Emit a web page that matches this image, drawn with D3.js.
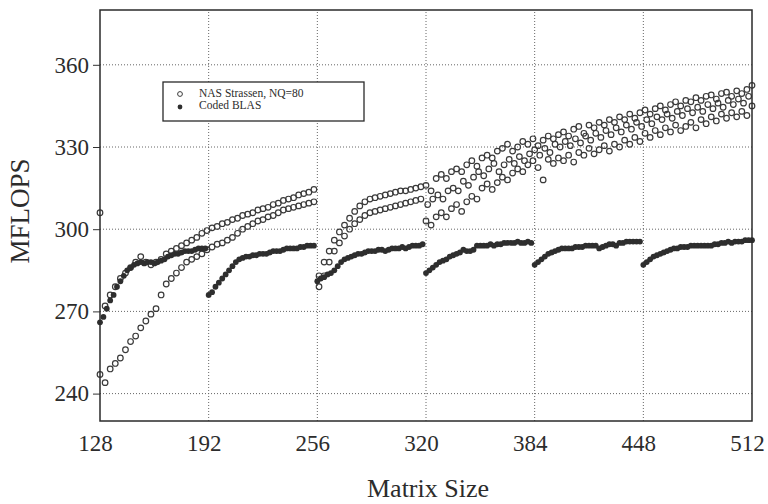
<!DOCTYPE html>
<html>
<head>
<meta charset="utf-8">
<script src="https://cdn.jsdelivr.net/npm/d3@7/dist/d3.min.js"></script>
<style>
    body { margin: 0; background: #fff; }
    svg text { font-family: "Liberation Serif", "Times New Roman", serif; fill: #2c2c2c; }
</style>
</head>
<body>
<div id="chart"></div>
<script>
"use strict";

// axis ticks
var xTicks = [128, 192, 256, 320, 384, 448, 512];
var yTicks = [240, 270, 300, 330, 360];

// legend labels
var seriesNames = ["NAS Strassen, NQ=80", "Coded BLAS"];

// coded BLAS, one value every 2 sizes from 128 to 512
var blasSizes = d3.range(128, 513, 2);
var blasValues = [
    266, 268, 271, 274, 276, 279, 281, 283, 285, 286, 287, 287.5, 288, 287.5, 288, 288,
    287.5, 288, 288.5, 289, 290, 290.5, 291, 291, 291.5, 292, 292, 292, 292.5, 293, 293, 293,
    276, 277, 279, 280.5, 282, 283.5, 285, 286.5, 288, 289, 289.5, 290, 290, 290.5, 290.5, 291,
    291, 291, 291.5, 292, 292, 292, 292.5, 293, 293, 293, 293, 293.5, 293.5, 294, 294, 294,
    281, 282, 282.5, 283.5, 284, 285, 286.5, 288, 289, 289.5, 290, 290.5, 291, 291, 291.5, 292,
    292, 292, 292.5, 292.5, 292, 292.5, 293, 293, 293, 293.5, 293, 293.5, 294, 294, 294, 294.5,
    284, 285, 286, 287, 288, 288.5, 289, 290, 290.5, 291, 291.5, 292.5, 292, 292, 292.5, 294,
    294, 294, 294, 294.5, 294, 294.5, 294.5, 295, 295, 295, 295, 295.5, 295, 295, 295.5, 295,
    287, 288, 289, 290, 291, 291.5, 292, 292.5, 293, 293, 293, 293, 293.5, 293.5, 293.5, 294,
    294, 294, 294, 293, 293.5, 294, 294.5, 294.5, 294, 295, 295, 295.5, 295.5, 295.5, 295.5, 295.5,
    287, 288, 289, 290, 290.5, 291, 291.5, 292, 292.5, 293, 293, 293.5, 293.5, 293.5, 294, 294,
    294, 294, 294, 294, 294, 294.5, 294.5, 295, 295, 295.5, 295, 295.5, 295.5, 295.5, 296, 296, 296
];

// NAS strassen, measured every 3 sizes, falls into bands
var strassenSizes = d3.range(128, 513, 3);
var strassenUpper = [
    306, 272, 276, 279, 282, 284, 286, 288, 290, 288, 287, 288, 289, 291, 292, 293, 294, 295, 296, 297, 298.5, 299.5,
    300.5, 301, 302, 302.5, 303.5, 304, 305, 305.5, 306, 307, 307.5, 308, 309, 309.5, 310.5, 311, 311.5, 312.5, 313, 313.5, 314.5,
    283, 288, 292, 296, 299, 301.5, 304, 306.5, 308.5, 310, 311, 311.5, 312, 312.5, 313, 313.5, 314, 314, 314.5, 315, 315.5,
    316, 314, 318.5, 320, 318.5, 321, 322, 321, 323.5, 325, 323, 326, 327, 326, 328.5, 329.5, 331, 328.5, 330, 332, 331, 333,
    330.5, 332.5, 334, 333, 334.5, 335.5, 334, 336.5, 337.5, 335, 338, 337, 339, 338, 340, 339, 341, 340, 342, 340.5, 342.5,
    343.5, 342, 344, 345, 343.5, 345.5, 346.5, 345, 347, 346.5, 348, 347, 348.5, 349, 347.5, 349.5, 350, 348.5, 350.5, 349.5, 351, 352.5
];
var strassenLower = [
    247, 244, 249, 251, 253, 256, 259, 261, 264, 266.5, 269, 271, 276, 280, 282, 284, 286, 288, 289, 290, 291, 292.5,
    293.5, 294.5, 295, 296, 297, 298.5, 300, 301, 302, 303, 303.5, 304.5, 305, 306, 307, 307.5, 308, 308.5, 309, 309.5, 310,
    279, 283, 288, 292, 295, 297.5, 300, 302, 303.5, 305, 306, 306.5, 307, 307.5, 308, 308.5, 309, 309.5, 310, 310.5, 311,
    303, 301.5, 304.5, 306, 304.5, 307.5, 309, 306.5, 310, 312, 311, 315, 316.5, 314.5, 317, 319, 318, 320.5, 322, 321, 323.5, 325,
    322.5, 318, 325.5, 324, 326, 325, 327, 324.5, 328, 327, 329.5, 327.5, 329, 330.5, 328.5, 331, 330, 332.5, 331, 333.5, 332,
    335, 333.5, 336, 334.5, 337, 335.5, 338, 336, 337.5, 339, 337, 340, 338.5, 341, 339.5, 342, 340.5, 342.5, 341, 343, 341.5, 345
];
// the middle band only shows above 320
var middleSizes = d3.range(321, 511, 3);
var strassenMiddle = [
    309, 311, 312.5, 311, 314, 315, 314, 317.5, 316, 319, 321, 319.5, 322, 324, 321, 323.5, 325.5, 324, 326.5, 325, 327.5, 329,
    327, 329.5, 328, 331, 330, 332, 330.5, 333, 331.5, 334, 332.5, 335, 333.5, 336, 334.5, 337, 335.5, 338, 336.5, 339, 337.5,
    340, 338.5, 341, 340, 342, 340.5, 343, 341.5, 344, 342.5, 344.5, 343, 345.5, 344, 346, 344.5, 347, 345.5, 347.5, 346, 348.5
];

var width = 768,
    height = 504;

var svg = d3.select("#chart").append("svg")
    .attr("width", width)
    .attr("height", height);

var x = d3.scaleLinear().domain([128, 512]).range([100, 752]);
var y = d3.scaleLinear().domain([230, 380]).range([421, 10]);

//dotted grid
svg.append("g")
    .selectAll("line")
    .data(xTicks.slice(1, -1))
    .enter().append("line")
    .attr("x1", function (d) { return x(d); })
    .attr("x2", function (d) { return x(d); })
    .attr("y1", y.range()[0])
    .attr("y2", y.range()[1])
    .attr("stroke", "#666")
    .attr("stroke-dasharray", "1,2");

svg.append("g")
    .selectAll("line")
    .data(yTicks)
    .enter().append("line")
    .attr("x1", x.range()[0])
    .attr("x2", x.range()[1])
    .attr("y1", function (d) { return y(d); })
    .attr("y2", function (d) { return y(d); })
    .attr("stroke", "#666")
    .attr("stroke-dasharray", "1,2");

//build point lists from the arrays
var strassenPts = [];
strassenSizes.forEach(function (s, i) {
    strassenPts.push([s, strassenUpper[i]]);
    strassenPts.push([s, strassenLower[i]]);
});
middleSizes.forEach(function (s, i) {
    strassenPts.push([s, strassenMiddle[i]]);
});
var blasPts = blasSizes.map(function (s, i) { return [s, blasValues[i]]; });

//strassen open circles
svg.append("g")
    .selectAll("circle")
    .data(strassenPts)
    .enter().append("circle")
    .attr("cx", function (d) { return x(d[0]); })
    .attr("cy", function (d) { return y(d[1]); })
    .attr("r", 2.8)
    .attr("fill", "none")
    .attr("stroke", "#3a3a3a")
    .attr("stroke-width", 1.2);

//blas filled dots go on top
svg.append("g")
    .selectAll("circle")
    .data(blasPts)
    .enter().append("circle")
    .attr("cx", function (d) { return x(d[0]); })
    .attr("cy", function (d) { return y(d[1]); })
    .attr("r", 2.9)
    .attr("fill", "#2e2e2e");

//axes
var xAxis = svg.append("g")
    .attr("transform", "translate(0," + y.range()[0] + ")")
    .call(d3.axisBottom(x).tickValues(xTicks).tickSize(0).tickPadding(14));
xAxis.select(".domain").remove();
xAxis.selectAll("text")
    .attr("dx", -5)
    .style("font-size", "23px")
    .style("fill", "#2c2c2c");

var yAxis = svg.append("g")
    .attr("transform", "translate(" + x.range()[0] + ",0)")
    .call(d3.axisLeft(y).tickValues(yTicks).tickSize(7).tickPadding(4));
yAxis.select(".domain").remove();
yAxis.selectAll("line").attr("stroke", "#333");
yAxis.selectAll("text")
    .style("font-size", "23px")
    .style("fill", "#2c2c2c");

//frame
svg.append("rect")
    .attr("x", x.range()[0])
    .attr("y", y.range()[1])
    .attr("width", x.range()[1] - x.range()[0])
    .attr("height", y.range()[0] - y.range()[1])
    .attr("fill", "none")
    .attr("stroke", "#2a2a2a")
    .attr("stroke-width", 1.5);

//axis titles
svg.append("text")
    .attr("x", 428)
    .attr("y", 497)
    .attr("text-anchor", "middle")
    .style("font-size", "26px")
    .text("Matrix Size");

svg.append("text")
    .attr("transform", "translate(29,211) rotate(-90)")
    .attr("text-anchor", "middle")
    .style("font-size", "27px")
    .text("MFLOPS");

//legend
var legend = svg.append("g").attr("transform", "translate(163,82)");
legend.append("rect")
    .attr("width", 201)
    .attr("height", 39)
    .attr("fill", "#fff")
    .attr("stroke", "#2a2a2a")
    .attr("stroke-width", 1.3);

legend.append("circle")
    .attr("cx", 17).attr("cy", 12)
    .attr("r", 2.4)
    .attr("fill", "none")
    .attr("stroke", "#3a3a3a");
legend.append("circle")
    .attr("cx", 17).attr("cy", 25)
    .attr("r", 2.4)
    .attr("fill", "#2e2e2e");

legend.selectAll("text.label")
    .data(seriesNames)
    .enter().append("text")
    .attr("class", "label")
    .attr("x", 36)
    .attr("y", function (d, i) { return 15 + i * 12; })
    .style("font-size", "11.5px")
    .text(function (d) { return d; });
</script>
</body>
</html>
